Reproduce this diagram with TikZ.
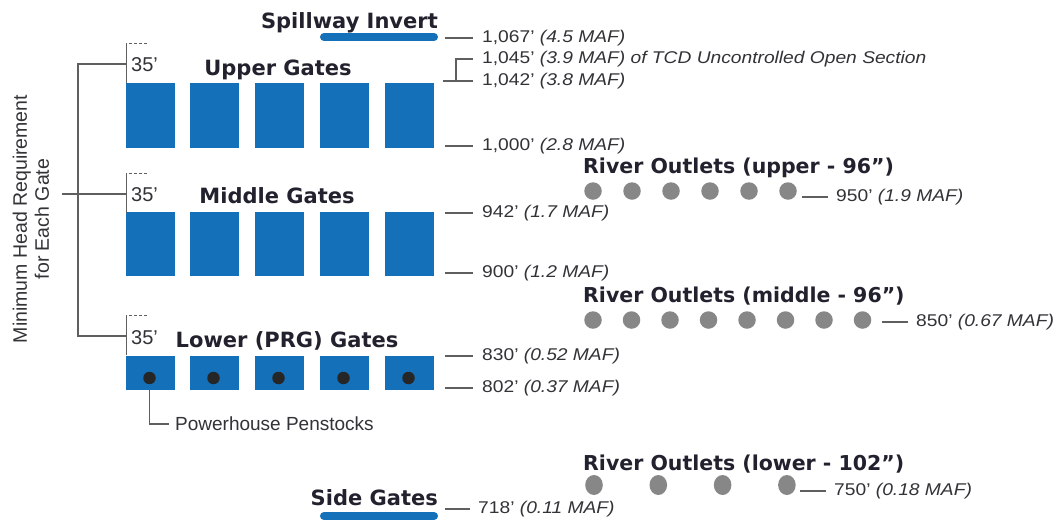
\documentclass[tikz,border=0pt]{standalone}
\usepackage{fontspec}
\setmainfont{Liberation Sans}
\newfontfamily\headfont{DejaVu Sans}
\newfontfamily\levelfont{Liberation Sans}[FakeStretch=1.13]
\usepackage{xcolor}
\usetikzlibrary{calc, positioning}

\definecolor{gateblue}{RGB}{21,112,186}
\definecolor{outletgray}{RGB}{135,135,135}
\definecolor{inkdark}{RGB}{34,34,46}
\definecolor{inklabel}{RGB}{50,50,55}
\definecolor{rulegray}{RGB}{95,95,95}

\begin{document}
\begin{tikzpicture}[x=1pt, y=-1pt,
	title/.style={font=\headfont\bfseries\fontsize{21}{24}\selectfont, text=inkdark, inner sep=0pt},
	level/.style={font=\levelfont\fontsize{17}{20}\selectfont, text=inklabel, anchor=west, inner sep=0pt},
	ldr/.style={draw=rulegray, line width=1.1pt},
	bar/.style={draw=gateblue, line width=8pt, line cap=round},
	outlet/.style={circle, fill=outletgray, inner sep=0pt, minimum size=17.5pt},
	penstock/.style={circle, fill=black!85, inner sep=0pt, minimum size=12.5pt}]
	\useasboundingbox (0,0) rectangle (1064,520);
	\fill[white] (0,0) rectangle (1064,520);
	
	% gates
	\foreach \x in {126,190,255,320,385} {
		\fill[gateblue] (\x,83) rectangle ++(49,65);
		\fill[gateblue] (\x,212) rectangle ++(49,64);
		\fill[gateblue] (\x,356) rectangle ++(49,34);
	}
	\foreach \x [count=\i] in {126,190,255,320,385}
		\node[penstock] (pen\i) at (\x+23.5,378) {};
	
	\node[title, anchor=base east] (spill) at (438,28) {Spillway Invert};
	\draw[bar] (324,37) -- (434,37);
	\node[title, anchor=base] (upper) at (278,75) {Upper Gates};
	\node[title, anchor=base] (middle) at (277,203) {Middle Gates};
	\node[title, anchor=base] (lower) at (287,347) {Lower (PRG) Gates};
	\node[title, anchor=base east] (side) at (438,505) {Side Gates};
	\draw[bar] (324,516) -- (434,516);
	
	% 35' head marks
	\foreach \t/\n/\b in {43/u/71,173/m/201,315/l/344} {
		\draw[ldr, line width=0.9pt] (126,\t) -- (126,\t+40);
		\draw[ldr, line width=0.9pt, dash pattern=on 3pt off 2pt] (129,\t) -- (147,\t);
		\node[anchor=base west, inner sep=0pt, text=inklabel, font=\fontsize{20}{22}\selectfont] (h\n) at (131,\b) {35’};
		\coordinate (k\n) at (126,\t+21);
	}
	\node[rotate=90, align=center, text=inklabel, font=\fontsize{19.5}{22}\selectfont] (head) at (31,219)
		{Minimum Head Requirement\\for Each Gate};
	\draw[ldr] (ku) -| ($(kl)+(-48,0)$) -- (kl);
	\draw[ldr] (km) -- ++(-64,0);
	
	\node[anchor=west, inner sep=0pt, text=inklabel, font=\fontsize{19}{22}\selectfont] (penlbl) at (175,424) {Powerhouse Penstocks};
	\draw[ldr] (pen1.south) |- ([xshift=-6pt]penlbl.west);
	
	% river outlets
	\node[title, anchor=base west, font=\headfont\bfseries\fontsize{20.5}{24}\selectfont] (rivup) at (583,173) {River Outlets (upper - 96”)};
	\node[title, anchor=base west, font=\headfont\bfseries\fontsize{20.5}{24}\selectfont] (rivmid) at (583,302) {River Outlets (middle - 96”)};
	\node[title, anchor=base west, font=\headfont\bfseries\fontsize{20.5}{24}\selectfont] (rivlow) at (583,470) {River Outlets (lower - 102”)};
	\foreach \i in {0,...,5}
		\node[outlet] (ou\i) at (593+39*\i,191) {};
	\foreach \i in {0,...,7}
		\node[outlet] (om\i) at (593+38.5*\i,320) {};
	\foreach \i in {0,...,3}
		\fill[outletgray] (594+64.3*\i,485) ellipse [x radius=8.8, y radius=10];
	
	% elevations
	\node[level] (e1067) at (482,38) {1,067’ \textit{(4.5 MAF)}};
	\node[level] (e1045) at (482,59) {1,045’ \textit{(3.9 MAF) of TCD Uncontrolled Open Section}};
	\node[level] (e1042) at (482,81) {1,042’ \textit{(3.8 MAF)}};
	\node[level] (e1000) at (482,146) {1,000’ \textit{(2.8 MAF)}};
	\node[level] (e942) at (482,213) {942’ \textit{(1.7 MAF)}};
	\node[level] (e900) at (482,273) {900’ \textit{(1.2 MAF)}};
	\node[level] (e830) at (482,356) {830’ \textit{(0.52 MAF)}};
	\node[level] (e802) at (482,388) {802’ \textit{(0.37 MAF)}};
	\node[level] (e950) at (836,197) {950’ \textit{(1.9 MAF)}};
	\node[level] (e850) at (916,322) {850’ \textit{(0.67 MAF)}};
	\node[level] (e750) at (834,491) {750’ \textit{(0.18 MAF)}};
	\node[level] (e718) at (478,509) {718’ \textit{(0.11 MAF)}};
	\foreach \e in {e1067,e1000,e942,e900,e830,e802}
		\draw[ldr] ([xshift=-9pt]\e.west) -- ++(-28,0);
	\draw[ldr] ([xshift=-9pt]e1045.west) -| ([xshift=-26pt]e1042.west) -- ++(-13,0);
	\draw[ldr] ([xshift=-9pt]e1042.west) -- ++(-30,0);
	\draw[ldr] ([xshift=-8pt]e950.west) -- ++(-26,0);
	\draw[ldr] ([xshift=-8pt]e850.west) -- ++(-26,0);
	\draw[ldr] ([xshift=-8pt]e750.west) -- ++(-26,0);
	\draw[ldr] ([xshift=-8pt]e718.west) -- ++(-25,0);
\end{tikzpicture}
\end{document}
